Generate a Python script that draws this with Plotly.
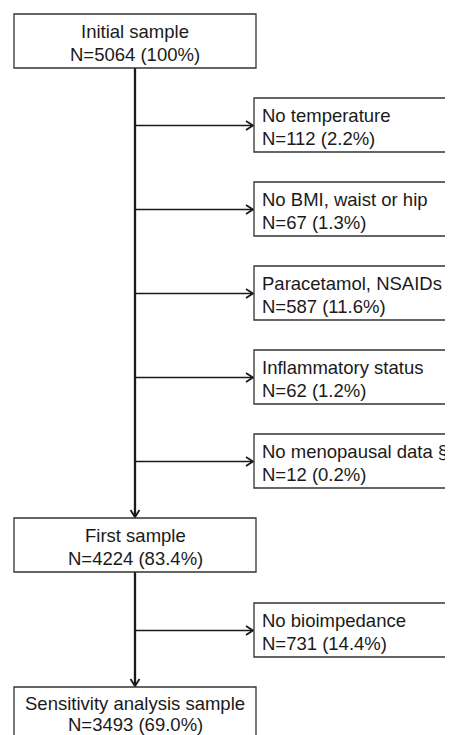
import plotly.graph_objects as go

# ---- data ----
main_labels = ["Initial sample", "First sample", "Sensitivity analysis sample"]
main_n = [5064, 4224, 3493]
main_pct = ["100%", "83.4%", "69.0%"]

excl_labels = ["No temperature", "No BMI, waist or hip", "Paracetamol, NSAIDs",
               "Inflammatory status", "No menopausal data §", "No bioimpedance"]
excl_n = [112, 67, 587, 62, 12, 731]
excl_pct = ["2.2%", "1.3%", "11.6%", "1.2%", "0.2%", "14.4%"]

# ---- layout geometry (pixels of the window) ----
W, H = 453, 735
PAD = 8  # default page body margin
FONT = "Liberation Sans, Arial, sans-serif"
FS = 18.5
LINE = "#1a1a1a"
BOX = "#333333"

main_x0, main_x1, main_cx = 14, 256, 135
main_top = [14, 518, 687]
box_h = 54
side_x0, side_x1 = 254, 470
side_top = [98, 182, 266, 350, 434, 603]
text_x = 260

fig = go.Figure()
shapes = []
annots = []

def box(x0, y0, x1, y1):
    shapes.append(dict(type="rect", x0=x0, y0=y0, x1=x1, y1=y1, xref="x", yref="y",
                       line=dict(color=BOX, width=1.3), fillcolor="white", layer="above"))

def text(x, y, s, anchor):
    annots.append(dict(x=x, y=y, text=s, showarrow=False, xref="x", yref="y",
                       xanchor=anchor, yanchor="middle",
                       font=dict(family=FONT, size=FS, color="#1a1a1a")))

def seg(xs, ys, w):
    fig.add_trace(go.Scatter(x=xs, y=ys, mode="lines", line=dict(color=LINE, width=w),
                             hoverinfo="skip", showlegend=False))

# main boxes (last box is cut by the page edge: keep its second line inside)
for i, (lab, n, p, t) in enumerate(zip(main_labels, main_n, main_pct, main_top)):
    box(main_x0, t, main_x1, t + box_h)
    last = i == len(main_top) - 1
    text(main_cx, t + (16.5 if last else 17.5), lab, "center")
    text(main_cx, t + (37.5 if last else 40), f"N={n} ({p})", "center")

# side boxes
for lab, n, p, t in zip(excl_labels, excl_n, excl_pct, side_top):
    box(side_x0, t, side_x1, t + box_h)
    text(text_x, t + 17, lab, "left")
    text(text_x, t + 40, f"N={n} ({p})", "left")
    ya = t + box_h / 2 + 0.5
    seg([main_cx, side_x0 - 1], [ya, ya], 1.7)
    seg([side_x0 - 8, side_x0 - 1, side_x0 - 8], [ya - 4.5, ya, ya + 4.5], 1.8)

# vertical trunks with arrowheads
for y0, y1 in [(main_top[0] + box_h, main_top[1] - 1), (main_top[1] + box_h, main_top[2] - 1)]:
    seg([main_cx, main_cx], [y0, y1], 2.3)
    seg([main_cx - 4.5, main_cx, main_cx + 4.5], [y1 - 7, y1, y1 - 7], 1.8)

fig.update_layout(
    width=W - PAD, height=H - PAD, margin=dict(l=0, r=0, t=0, b=0),
    paper_bgcolor="white", plot_bgcolor="white",
    xaxis=dict(range=[PAD, W], visible=False, fixedrange=True),
    yaxis=dict(range=[H, PAD], visible=False, fixedrange=True),
    shapes=shapes, annotations=annots,
)
fig.write_html("out.html")
